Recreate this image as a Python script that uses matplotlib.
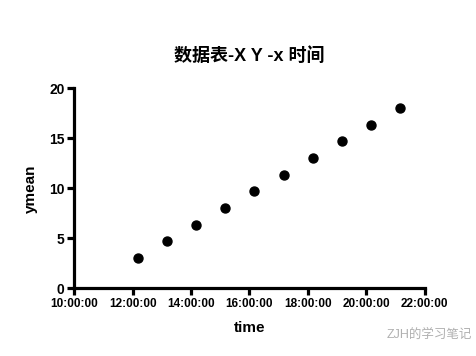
import numpy as np
import pandas as pd
import matplotlib
matplotlib.use("Agg")
import matplotlib.pyplot as plt
import matplotlib.dates as mdates

plt.rcParams['font.family'] = ['Liberation Sans', 'Noto Sans CJK SC', 'DejaVu Sans']

# data
times = ["12:10", "13:10", "14:10", "15:10", "16:10",
         "17:10", "18:10", "19:10", "20:10", "21:10"]
ymean = [3.0, 4.7, 6.3, 8.0, 9.7, 11.3, 13.0, 14.7, 16.3, 18.0]
yticks = [0, 5, 10, 15, 20]

day = "2020-01-01 "
t = pd.to_datetime([day + s for s in times])
xmin = pd.Timestamp(day + "10:00")
xmax = pd.Timestamp(day + "22:00")

fig = plt.figure(figsize=(4.77, 3.56), dpi=100)
ax = fig.add_axes([0.156, 0.19, 0.734, 0.562])

ax.scatter(t, ymean, s=42, color="black", zorder=3, clip_on=False)

ax.set_xlim(xmin, xmax)
ax.set_ylim(0, 20)
ax.set_yticks(yticks)
ax.xaxis.set_major_locator(mdates.HourLocator(byhour=range(0, 24, 2)))
ax.xaxis.set_major_formatter(mdates.DateFormatter("%H:%M:%S"))

for side in ["top", "right"]:
    ax.spines[side].set_visible(False)
for side in ["left", "bottom"]:
    ax.spines[side].set_linewidth(2.3)
ax.tick_params(width=2.3, length=5, pad=2)
ax.tick_params(axis="x", labelsize=8.5)
ax.tick_params(axis="y", labelsize=10)
for lab in ax.get_xticklabels() + ax.get_yticklabels():
    lab.set_fontweight("bold")

ax.set_xlabel("time", fontsize=11, fontweight="bold", labelpad=8)
ax.set_ylabel("ymean", fontsize=11, fontweight="bold", labelpad=8)
ax.set_title("数据表-X Y -x 时间", fontsize=13, fontweight="bold", pad=20)

fig.text(0.99, 0.06, "ZJH的学习笔记", ha="right", va="center",
         fontsize=9, color="#b0b0b0")

fig.savefig("out.png", dpi=100)
